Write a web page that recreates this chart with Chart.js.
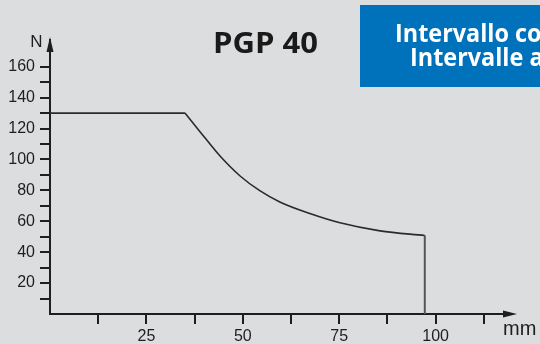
<!DOCTYPE html>
<html>
<head>
<meta charset="utf-8">
<script src="https://cdn.jsdelivr.net/npm/chart.js@4/dist/chart.umd.min.js"></script>
<style>
    html, body { margin: 0; padding: 0; background: #dcdddf; }
    #wrap { width: 540px; height: 344px; overflow: hidden; }
</style>
</head>
<body>
<div id="wrap"><canvas id="chartCanvas" width="540" height="344"></canvas></div>
<script>
// force (N) against stroke (mm)
var flatMm = [0, 35];
var flatN = [130, 130];
var curveMm = [35, 38.9, 44.1, 49.3, 54.4, 59.6, 67.4, 75.2, 85.6, 97.2];
var curveN = [130, 118, 102.2, 89.3, 79.8, 72.5, 65, 59, 53.8, 50.8];
var dropMm = [97.2, 97.2];
var dropN = [50.8, 0];

var xTicks = [12.5, 25, 37.5, 50, 62.5, 75, 87.5, 100, 112.5];
var xLabels = [25, 50, 75, 100];
var yTicks = [10, 20, 30, 40, 50, 60, 70, 80, 90, 100, 110, 120, 130, 140, 150, 160];
var yLabels = [20, 40, 60, 80, 100, 120, 140, 160];

var titleText = 'PGP 40';
var boxLines = ['Intervallo consigliato', 'Intervalle admis'];

function toPoints(xs, ys) {
    return xs.map(function (x, i) { return { x: x, y: ys[i] }; });
}

var ink = '#1e1e1e';
var tickFont = { family: "'Liberation Sans', Arial, sans-serif", size: 16 };

// squeezes a line of text so that a given part of it is w pixels wide
function drawSqueezed(c, text, part, w, x, y) {
    var k = w / c.measureText(part).width;
    c.save();
    c.translate(x, y);
    c.scale(k, 1);
    c.fillText(text, 0, 0);
    c.restore();
}

var decorations = {
    id: 'decorations',
    afterDraw: function (chart) {
        var c = chart.ctx;
        var a = chart.chartArea;
        c.save();

        // axis arrows
        c.fillStyle = ink;
        c.beginPath();
        c.moveTo(a.left, a.top - 3);
        c.lineTo(a.left - 3.5, a.top + 12);
        c.lineTo(a.left + 3.5, a.top + 12);
        c.closePath();
        c.fill();
        c.beginPath();
        c.moveTo(a.right + 7, a.bottom);
        c.lineTo(a.right - 7, a.bottom - 3.5);
        c.lineTo(a.right - 7, a.bottom + 3.5);
        c.closePath();
        c.fill();

        // axis names
        c.font = "17px 'Liberation Sans', Arial, sans-serif";
        c.textAlign = 'center';
        c.textBaseline = 'alphabetic';
        c.fillText('N', 36.5, 47);
        c.font = "20px 'Liberation Sans', Arial, sans-serif";
        c.textAlign = 'left';
        c.fillText('mm', 503, 335);

        // title
        c.font = "bold 28px 'Open Sans', sans-serif";
        c.fillStyle = '#1a1a1a';
        drawSqueezed(c, titleText, titleText, 105, 213, 53);

        // blue box top right
        c.fillStyle = '#0071bb';
        c.fillRect(360, 5, 190, 82);
        c.fillStyle = '#ffffff';
        c.font = "bold 25px 'Open Sans', sans-serif";
        drawSqueezed(c, boxLines[0], 'Intervallo', 114, 395, 42);
        drawSqueezed(c, boxLines[1], 'Intervallo', 114, 410, 66);

        c.restore();
    }
};

var ctx = document.getElementById('chartCanvas').getContext('2d');
var myChart = new Chart(ctx, {
    type: 'scatter',
    data: {
        datasets: [{
            data: toPoints(flatMm, flatN),
            showLine: true,
            borderColor: '#2a2a2a',
            borderWidth: 1.6,
            pointRadius: 0
        }, {
            data: toPoints(curveMm, curveN),
            showLine: true,
            cubicInterpolationMode: 'monotone',
            borderColor: '#2a2a2a',
            borderWidth: 1.6,
            pointRadius: 0
        }, {
            data: toPoints(dropMm, dropN),
            showLine: true,
            borderColor: '#555555',
            borderWidth: 2,
            pointRadius: 0
        }]
    },
    options: {
        responsive: false,
        animation: false,
        layout: { padding: { top: 40, right: 30, left: 0, bottom: 0 } },
        plugins: {
            legend: { display: false },
            tooltip: { enabled: false }
        },
        scales: {
            x: {
                type: 'linear',
                min: 0,
                max: 119.3,
                afterFit: function (s) { s.height = 30; },
                afterBuildTicks: function (s) {
                    s.ticks = xTicks.map(function (v) { return { value: v }; });
                },
                grid: { drawOnChartArea: false, drawTicks: true, tickLength: 10, color: ink, lineWidth: 2 },
                border: { display: true, color: ink, width: 2 },
                ticks: {
                    autoSkip: false,
                    maxRotation: 0,
                    padding: 3,
                    color: ink,
                    font: tickFont,
                    callback: function (v) { return xLabels.indexOf(v) >= 0 ? v : ''; }
                }
            },
            y: {
                type: 'linear',
                min: 0,
                max: 177.3,
                afterFit: function (s) { s.width = 50; },
                afterBuildTicks: function (s) {
                    s.ticks = yTicks.map(function (v) { return { value: v }; });
                },
                grid: { drawOnChartArea: false, drawTicks: true, tickLength: 10, color: ink, lineWidth: 2 },
                border: { display: true, color: ink, width: 2 },
                ticks: {
                    autoSkip: false,
                    padding: 5,
                    color: ink,
                    font: tickFont,
                    callback: function (v) { return yLabels.indexOf(v) >= 0 ? v : ''; }
                }
            }
        }
    },
    plugins: [decorations]
});
</script>
</body>
</html>
